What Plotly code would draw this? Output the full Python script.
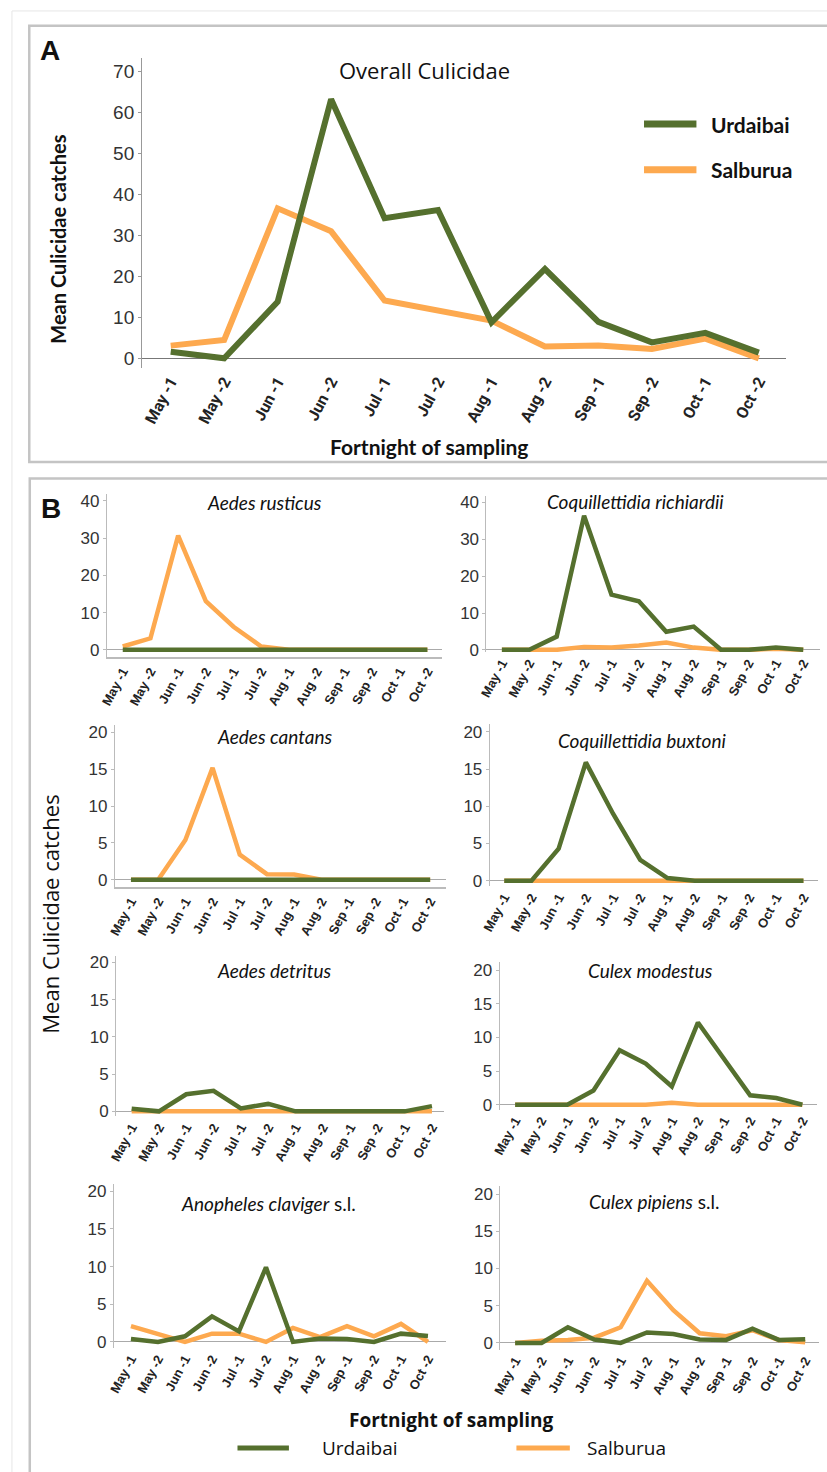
import plotly.graph_objects as go

W, H = 827, 1472

periods = ["May -1", "May -2", "Jun -1", "Jun -2", "Jul -1", "Jul -2",
           "Aug -1", "Aug -2", "Sep -1", "Sep -2", "Oct -1", "Oct -2"]

overall_urdaibai = [1.6, 0, 13.8, 63.2, 34.2, 36.2, 8.8, 21.8, 8.9, 3.9, 6.2, 1.4]
overall_salburua = [3.1, 4.5, 36.6, 31.0, 14.1, 11.7, 9.2, 2.9, 3.1, 2.3, 4.8, 0]

rusticus_urd = [0, 0, 0, 0, 0, 0, 0, 0, 0, 0, 0, 0]
rusticus_sal = [0.9, 3.1, 30.7, 13.1, 6.2, 0.9, 0, 0, 0, 0, 0, 0]
richiardii_urd = [0, 0, 3.6, 36.4, 15.0, 13.2, 4.9, 6.3, 0, 0, 0.6, 0]
richiardii_sal = [0, 0, 0, 0.8, 0.6, 1.2, 2.0, 0.6, 0, 0, 0.3, 0]
cantans_urd = [0, 0, 0, 0, 0, 0, 0, 0, 0, 0, 0, 0]
cantans_sal = [0, 0, 5.4, 15.2, 3.4, 0.75, 0.7, 0, 0, 0, 0, 0]
buxtoni_urd = [0, 0, 4.3, 15.9, 9.0, 2.8, 0.35, 0, 0, 0, 0, 0]
buxtoni_sal = [0, 0, 0, 0, 0, 0, 0, 0, 0, 0, 0, 0]
detritus_urd = [0.35, 0, 2.3, 2.75, 0.4, 1.0, 0, 0, 0, 0, 0, 0.7]
detritus_sal = [0, 0, 0, 0, 0, 0, 0, 0, 0, 0, 0, 0]
modestus_urd = [0, 0, 0, 2.1, 8.1, 6.1, 2.7, 12.2, 6.9, 1.4, 1.0, 0]
modestus_sal = [0, 0, 0, 0, 0, 0, 0.3, 0, 0, 0, 0, 0]
claviger_urd = [0.4, 0, 0.75, 3.4, 1.4, 9.9, 0, 0.45, 0.4, 0, 1.1, 0.8]
claviger_sal = [2.1, 1.1, 0, 1.1, 1.1, 0, 1.85, 0.65, 2.1, 0.75, 2.4, 0]
pipiens_urd = [0, 0, 2.1, 0.45, 0, 1.4, 1.2, 0.45, 0.4, 1.9, 0.4, 0.5]
pipiens_sal = [0, 0.3, 0.4, 0.7, 2.1, 8.35, 4.4, 1.3, 0.9, 1.7, 0.4, 0.1]

species_titles = ["<i>Aedes rusticus</i>", "<i>Coquillettidia richiardii</i>",
                  "<i>Aedes cantans</i>", "<i>Coquillettidia buxtoni</i>",
                  "<i>Aedes detritus</i>", "<i>Culex modestus</i>",
                  "<i>Anopheles claviger</i> s.l.", "<i>Culex pipiens</i> s.l."]
species_urd = [rusticus_urd, richiardii_urd, cantans_urd, buxtoni_urd,
               detritus_urd, modestus_urd, claviger_urd, pipiens_urd]
species_sal = [rusticus_sal, richiardii_sal, cantans_sal, buxtoni_sal,
               detritus_sal, modestus_sal, claviger_sal, pipiens_sal]

GREEN = "#55702E"
ORANGE = "#FDA94F"

def px(p):
    return p / W

def py(p):
    return 1 - p / H

# geometry in pixels: yaxis_x, right, top, bottom, x0, dx, y0px, refpx, refval, xline_bottom, title(x,y)
geom = [
    (99, 438, 495, 659, 115, 28.0, 651.7, 501.7, 40, True, (258, 503)),
    (482.7, 820, 497, 654, 498.3, 27.7, 651.7, 503.3, 40, False, (633, 502)),
    (107, 442, 727, 890.7, 123.3, 27.5, 883.3, 735, 20, True, (268, 739)),
    (486, 818, 726, 890, 500.7, 27.5, 884.3, 734.3, 20, False, (640, 743)),
    (108.3, 440, 960, 1121.7, 124, 27.6, 1116.7, 966.7, 20, False, (268, 975)),
    (496, 816.7, 966, 1115, 511.7, 26.4, 1110, 974.3, 20, False, (649, 975)),
    (106, 442, 1190, 1355, 123.3, 27.3, 1349, 1197.3, 20, False, (262, 1210)),
    (496.7, 819, 1191.7, 1356.7, 511.7, 26.66, 1350, 1200, 20, False, (653, 1208)),
]

fig = go.Figure()
layout = dict(
    width=W, height=H, margin=dict(l=0, r=0, t=0, b=0),
    paper_bgcolor="white", plot_bgcolor="white", showlegend=False,
)

xs = list(range(len(periods)))
bold_periods = ["<b>" + p + "</b>" for p in periods]

# Panel A
fig.add_trace(go.Scatter(x=xs, y=overall_salburua, mode="lines", name="Salburua",
                         line=dict(color=ORANGE, width=6), xaxis="x", yaxis="y"))
fig.add_trace(go.Scatter(x=xs, y=overall_urdaibai, mode="lines", name="Urdaibai",
                         line=dict(color=GREEN, width=6), xaxis="x", yaxis="y"))

a_yax, a_right, a_top, a_bot = 134.5, 786, 55, 368
a_x0, a_dx = 163.5, 54.05
a_y0, a_ref = 358, 69
a_s = (a_y0 - a_ref) / 70
layout["xaxis"] = dict(
    domain=[px(a_yax), px(a_right)],
    range=[(a_yax - a_x0) / a_dx, (a_right - a_x0) / a_dx],
    tickvals=xs, ticktext=bold_periods, tickangle=-62,
    tickfont=dict(family="Roboto, Arial", size=16, color="#222"),
    showline=False, showgrid=False, zeroline=False, ticks="", anchor="y",
)
layout["yaxis"] = dict(
    domain=[py(a_bot), py(a_top)],
    range=[(a_y0 - a_bot) / a_s, (a_y0 - a_top) / a_s],
    tickvals=[0, 10, 20, 30, 40, 50, 60, 70],
    tickfont=dict(family="Liberation Sans Narrow, Arial Narrow, Liberation Sans", size=19, color="#333"),
    showline=True, linecolor="#999", linewidth=1, showgrid=False,
    zeroline=True, zerolinecolor="#777", zerolinewidth=1,
    ticks="outside", ticklen=3, tickcolor="#999", anchor="x",
)

annotations = []
shapes = []

for i, (yx, right, top, bot, x0, dx, y0px, refpx, refval, xline_bottom, tpos) in enumerate(geom):
    n = i + 2
    xa, ya = f"x{n}", f"y{n}"
    fig.add_trace(go.Scatter(x=xs, y=species_sal[i], mode="lines", name="Salburua",
                             line=dict(color=ORANGE, width=4.5), xaxis=xa, yaxis=ya))
    fig.add_trace(go.Scatter(x=xs, y=species_urd[i], mode="lines", name="Urdaibai",
                             line=dict(color=GREEN, width=4.5), xaxis=xa, yaxis=ya))
    s = (y0px - refpx) / refval
    layout[f"xaxis{n}"] = dict(
        domain=[px(yx), px(right)],
        range=[(yx - x0) / dx, (right - x0) / dx],
        tickvals=xs, ticktext=bold_periods, tickangle=-62,
        tickfont=dict(family="Arial, Liberation Sans", size=13, color="#222"),
        showline=xline_bottom, linecolor="#bbb", linewidth=1.5,
        showgrid=False, zeroline=False, ticks="", anchor=ya,
    )
    layout[f"yaxis{n}"] = dict(
        domain=[py(bot), py(top)],
        range=[(y0px - bot) / s, (y0px - top) / s],
        tickvals=[0, refval / 4, refval / 2, 3 * refval / 4, refval],
        tickfont=dict(family="Arial, Liberation Sans", size=17, color="#333"),
        showline=True, linecolor="#bbb", linewidth=1, showgrid=False,
        zeroline=True, zerolinecolor="#aaa", zerolinewidth=1,
        ticks="outside", ticklen=3, tickcolor="#bbb", anchor=xa,
    )
    annotations.append(dict(
        text=species_titles[i], x=px(tpos[0]), y=py(tpos[1]), xref="paper", yref="paper",
        xanchor="center", yanchor="middle", showarrow=False,
        font=dict(family="Lato, Open Sans", size=19, color="#111"),
    ))

annotations += [
    dict(text="<b>A</b>", x=px(41), y=py(48), xanchor="center", yanchor="middle",
         font=dict(family="Arial, Liberation Sans", size=28, color="#111")),
    dict(text="<b>B</b>", x=px(42), y=py(509), xanchor="center", yanchor="middle",
         font=dict(family="Arial, Liberation Sans", size=28, color="#111")),
    dict(text="Overall Culicidae", x=px(420), y=py(68), xanchor="center", yanchor="middle",
         font=dict(family="Open Sans, Lato", size=22, color="#111")),
    dict(text="<b>Mean Culicidae catches</b>", x=px(50), y=py(238), textangle=-90,
         xanchor="center", yanchor="middle",
         font=dict(family="Lato, Open Sans", size=20, color="#111")),
    dict(text="<b>Fortnight of sampling</b>", x=px(425), y=py(447), xanchor="center", yanchor="middle",
         font=dict(family="Lato, Open Sans", size=21, color="#111")),
    dict(text="<b>Urdaibai</b>", x=px(708), y=py(122), xanchor="left", yanchor="middle",
         font=dict(family="Lato, Open Sans", size=21, color="#111")),
    dict(text="<b>Salburua</b>", x=px(708), y=py(168), xanchor="left", yanchor="middle",
         font=dict(family="Lato, Open Sans", size=21, color="#111")),
    dict(text="Mean Culicidae catches", x=px(42), y=py(918), textangle=-90,
         xanchor="center", yanchor="middle",
         font=dict(family="Open Sans, Noto Sans", size=22, color="#111")),
    dict(text="<b>Fortnight of sampling</b>", x=px(447), y=py(1428), xanchor="center", yanchor="middle",
         font=dict(family="Open Sans, Noto Sans", size=19, color="#111")),
    dict(text="Urdaibai", x=px(314), y=py(1456), xanchor="left", yanchor="middle",
         font=dict(family="Open Sans, Noto Sans", size=19, color="#111")),
    dict(text="Salburua", x=px(582), y=py(1456), xanchor="left", yanchor="middle",
         font=dict(family="Open Sans, Noto Sans", size=19, color="#111")),
]
for a in annotations:
    a.setdefault("xref", "paper")
    a.setdefault("yref", "paper")
    a.setdefault("showarrow", False)

shapes += [
    dict(type="rect", xref="paper", yref="paper", x0=px(3), x1=px(900), y0=py(8), y1=py(1500),
         line=dict(color="#e6e6e6", width=1), layer="below"),
    dict(type="rect", xref="paper", yref="paper", x0=px(20.5), x1=px(900), y0=py(23), y1=py(462.5),
         line=dict(color="#c4c4c4", width=2.5), layer="below"),
    dict(type="rect", xref="paper", yref="paper", x0=px(21), x1=px(900), y0=py(479), y1=py(1500),
         line=dict(color="#c4c4c4", width=2.5), layer="below"),
    dict(type="line", xref="paper", yref="paper", x0=px(642), x1=px(695), y0=py(122), y1=py(122),
         line=dict(color=GREEN, width=7)),
    dict(type="line", xref="paper", yref="paper", x0=px(642), x1=px(695), y0=py(168), y1=py(168),
         line=dict(color=ORANGE, width=7)),
    dict(type="line", xref="paper", yref="paper", x0=px(231), x1=px(283), y0=py(1456), y1=py(1456),
         line=dict(color=GREEN, width=5)),
    dict(type="line", xref="paper", yref="paper", x0=px(513), x1=px(567), y0=py(1456), y1=py(1456),
         line=dict(color=ORANGE, width=5)),
]

layout["annotations"] = annotations
layout["shapes"] = shapes
fig.update_layout(**layout)
fig.write_html("out.html")
